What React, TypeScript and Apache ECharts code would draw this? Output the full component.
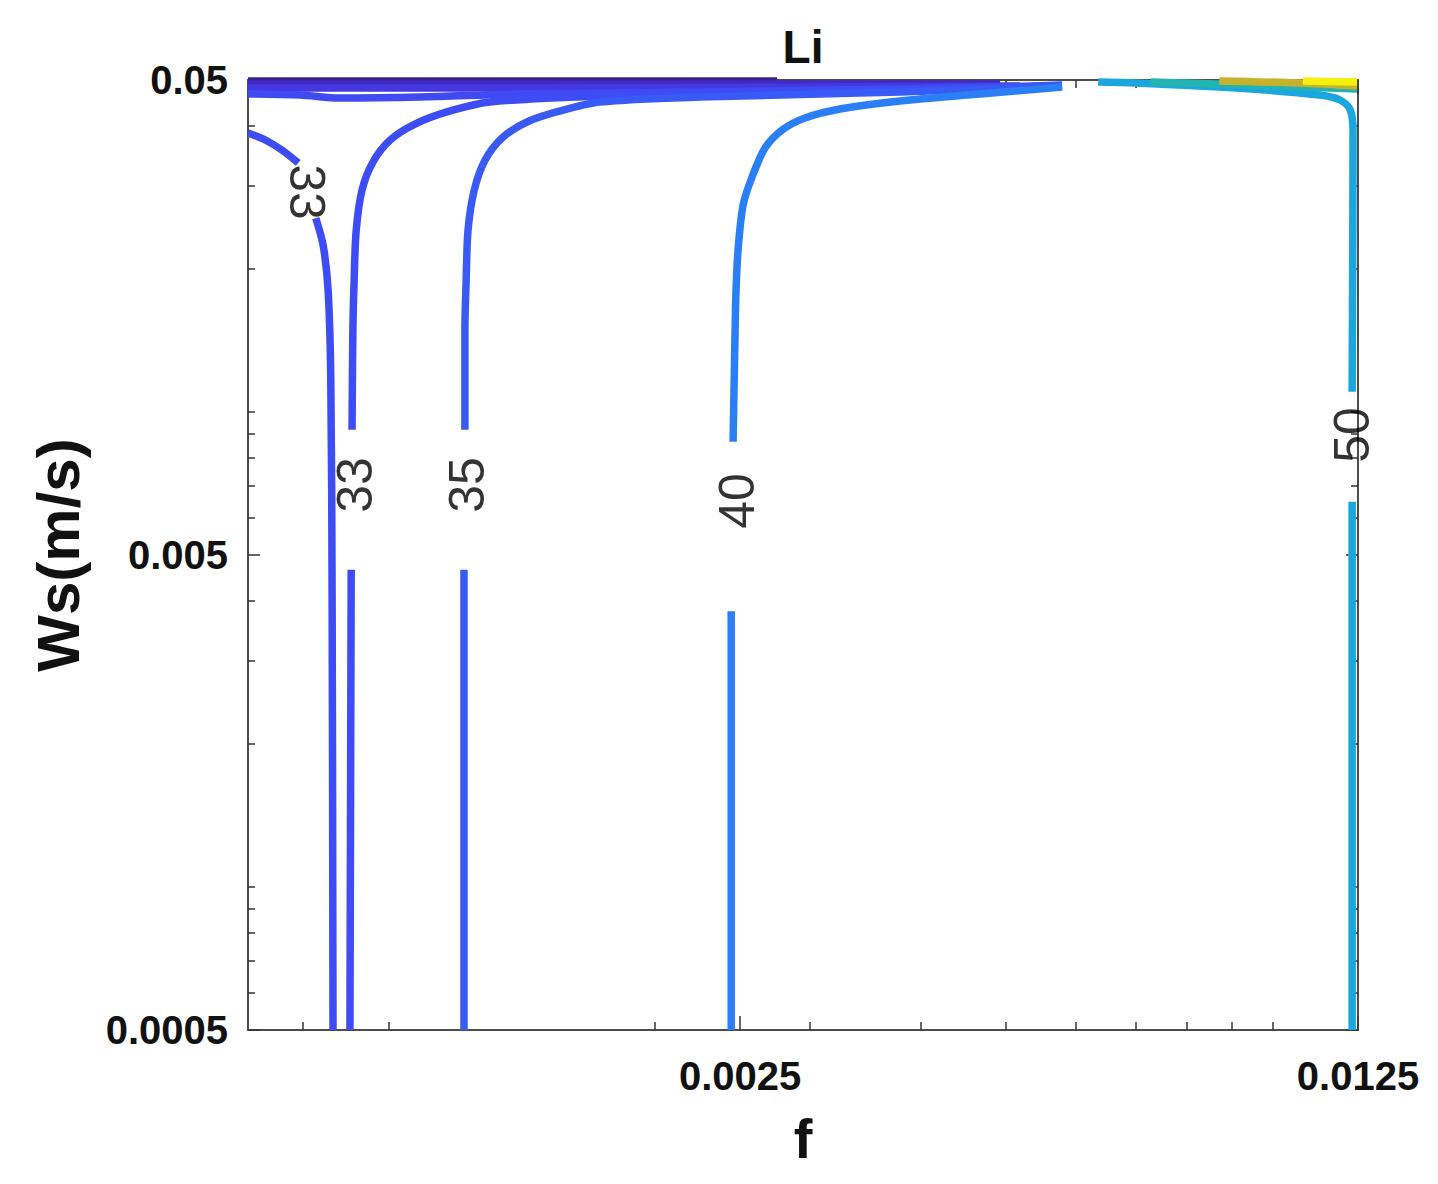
import { useEffect, useRef } from 'react'
import * as echarts from 'echarts'

type Pt = [number, number] // [f, Ws]

const xRange = [0.000694, 0.0125]
const yRange = [0.0005, 0.05]
const xMajorTicks = [0.0025, 0.0125]
const xMinorTicks = [0.0008, 0.0009, 0.001, 0.002, 0.003, 0.004, 0.005, 0.006, 0.007, 0.008, 0.009, 0.01]
const yMajorTicks = [0.0005, 0.005, 0.05]
const yMinorTicks = [
  0.0006, 0.0007, 0.0008, 0.0009, 0.001, 0.002, 0.003, 0.004,
  0.006, 0.007, 0.008, 0.009, 0.01, 0.02, 0.03, 0.04,
]

// labelled contours, split where the inline label cuts the line
const contour33a: Pt[][] = [
  [[6.94e-4, 0.03867], [7.26e-4, 0.03738], [7.58e-4, 0.03561], [7.91e-4, 0.03344]],
  [
    [8.28e-4, 0.02561], [8.44e-4, 0.02245], [8.55e-4, 0.01807], [8.61e-4, 0.01168],
    [8.64e-4, 0.00402], [8.66e-4, 0.0005],
  ],
]
const contour33b: Pt[][] = [
  [[9.05e-4, 0.0005], [9.08e-4, 0.004655]],
  [
    [9.1e-4, 0.009177], [9.12e-4, 0.01488], [9.15e-4, 0.01896], [9.2e-4, 0.02417], [9.34e-4, 0.02933],
    [9.61e-4, 0.0336], [1.005e-3, 0.03738], [1.072e-3, 0.04039], [1.175e-3, 0.04303], [1.303e-3, 0.04495],
    [1.736e-3, 0.04626], [2.922e-3, 0.0474], [4.921e-3, 0.04833], [5.783e-3, 0.0488],
  ],
]
const contour35: Pt[][] = [
  [[1.218e-3, 0.0005], [1.218e-3, 0.004655]],
  [
    [1.221e-3, 0.009177], [1.221e-3, 0.01488], [1.225e-3, 0.01896], [1.231e-3, 0.02417], [1.251e-3, 0.02933],
    [1.287e-3, 0.03393], [1.345e-3, 0.03775], [1.435e-3, 0.04079], [1.564e-3, 0.04303], [1.736e-3, 0.04495],
    [2.253e-3, 0.04604], [3.793e-3, 0.04717], [5.783e-3, 0.04857],
  ],
]
const contour40: Pt[][] = [
  [[2.443e-3, 0.0005], [2.443e-3, 0.003806]],
  [
    [2.455e-3, 0.008657], [2.468e-3, 0.01488], [2.474e-3, 0.01807], [2.487e-3, 0.02194], [2.52e-3, 0.02728],
    [2.58e-3, 0.03128], [2.668e-3, 0.03596], [2.789e-3, 0.03924], [2.961e-3, 0.04159], [3.244e-3, 0.04344],
    [3.793e-3, 0.04516], [4.671e-3, 0.04671], [5.783e-3, 0.04833],
  ],
]
const contour50: Pt[][] = [
  [[1.231e-2, 0.0005], [1.231e-2, 0.006474]],
  [
    [1.231e-2, 0.01103], [1.234e-2, 0.03904], [1.225e-2, 0.04324], [1.193e-2, 0.04538], [1.132e-2, 0.04649],
    [9.101e-3, 0.0481], [6.995e-3, 0.04928], [6.353e-3, 0.04952],
  ],
]

// unlabelled contours squeezed against the top edge
const topBand1: Pt[] = [[6.94e-4, 0.04976], [2.753e-3, 0.04976]]
const topBand2: Pt[] = [[6.94e-4, 0.04904], [4.921e-3, 0.04904]]
const topBand3: Pt[] = [[6.94e-4, 0.0481], [1.338e-3, 0.0481], [2.922e-3, 0.04833], [5.184e-3, 0.04857]]
const topBand4: Pt[] = [
  [6.94e-4, 0.04671], [7.95e-4, 0.04649], [8.82e-4, 0.04582], [1.086e-3, 0.04604],
  [1.41e-3, 0.04671], [2.253e-3, 0.04717], [3.793e-3, 0.04786], [5.783e-3, 0.04857],
]
const rightBand1: Pt[] = [[7.29e-3, 0.04952], [9.44e-3, 0.0488], [1.247e-2, 0.04786]]
const rightBand2: Pt[] = [[8.71e-3, 0.04976], [1.075e-2, 0.04928], [1.247e-2, 0.04857]]
const rightBand3: Pt[] = [[1.083e-2, 0.04976], [1.247e-2, 0.04952]]

const labelLevels = [33, 33, 35, 40, 50]
const labelPoints: Pt[] = [
  [8.1e-4, 0.02905], [9.17e-4, 0.00702], [1.228e-3, 0.00702], [2.48e-3, 0.0065], [1.231e-2, 0.008945],
]

const FONT = 'Liberation Sans, Arial, Helvetica, sans-serif'
const lg = Math.log10

const toData = (segs: Pt[][]) =>
  segs.flatMap((s, i) => [...(i ? [null] : []), ...s.map(([f, w]) => [lg(f), lg(w)])])

const fmt = (v: number) => String(Number(Math.pow(10, v).toPrecision(3)))

function ContourChart() {
  const chartRef = useRef<HTMLDivElement>(null)

  useEffect(() => {
    if (!chartRef.current) return
    const chart = echarts.init(chartRef.current, null, { renderer: 'svg' })

    const lineStyle = { color: '#4d4d4d', width: 2 }
    const tickStyle = { color: '#333', width: 1.5 }

    const xBase = {
      type: 'value',
      min: lg(xRange[0]),
      max: lg(xRange[1]),
      splitLine: { show: false },
      axisLine: { show: false, onZero: false },
      axisLabel: { show: false },
    }
    const yBase = {
      type: 'value',
      min: lg(yRange[0]),
      max: lg(yRange[1]),
      splitLine: { show: false },
      axisLine: { show: false, onZero: false },
      axisLabel: { show: false },
    }
    const tickLabel = {
      show: true,
      formatter: fmt,
      fontSize: 40,
      fontWeight: 'bold',
      color: '#111',
      fontFamily: FONT,
    }

    const line = (data: any[], color: string, z = 2) => ({
      type: 'line',
      data,
      smooth: 0.3,
      symbol: 'none',
      lineStyle: { color, width: 7.5, cap: 'butt' },
      z,
    })

    chart.setOption({
      animation: false,
      grid: { left: 248, right: 80, top: 80, bottom: 154 },
      xAxis: [
        {
          ...xBase,
          position: 'bottom',
          axisLine: { show: true, onZero: false, lineStyle },
          axisTick: { show: true, inside: true, length: 14, customValues: xMajorTicks.map(lg), lineStyle: tickStyle },
          axisLabel: { ...tickLabel, customValues: xMajorTicks.map(lg), margin: 26 },
          name: 'f',
          nameLocation: 'middle',
          nameGap: 80,
          nameTextStyle: { fontSize: 56, fontWeight: 'bold', color: '#111', fontFamily: FONT },
        },
        {
          ...xBase,
          position: 'bottom',
          axisTick: { show: true, inside: true, length: 8, customValues: xMinorTicks.map(lg), lineStyle: tickStyle },
        },
        {
          ...xBase,
          position: 'top',
          axisLine: { show: true, onZero: false, lineStyle },
          axisTick: { show: true, inside: true, length: 14, customValues: xMajorTicks.map(lg), lineStyle: tickStyle },
          name: 'Li',
          nameLocation: 'middle',
          nameGap: 10,
          nameTextStyle: { fontSize: 46, fontWeight: 'bold', color: '#111', fontFamily: FONT },
        },
        {
          ...xBase,
          position: 'top',
          axisTick: { show: true, inside: true, length: 8, customValues: xMinorTicks.map(lg), lineStyle: tickStyle },
        },
      ],
      yAxis: [
        {
          ...yBase,
          position: 'left',
          axisLine: { show: true, onZero: false, lineStyle },
          axisTick: { show: true, inside: true, length: 12, customValues: yMajorTicks.map(lg), lineStyle: tickStyle },
          axisLabel: { ...tickLabel, customValues: yMajorTicks.map(lg), margin: 20 },
          name: 'Ws(m/s)',
          nameLocation: 'middle',
          nameGap: 160,
          nameTextStyle: { fontSize: 60, fontWeight: 'bold', color: '#111', fontFamily: FONT },
        },
        {
          ...yBase,
          position: 'left',
          axisTick: { show: true, inside: true, length: 7, customValues: yMinorTicks.map(lg), lineStyle: tickStyle },
        },
        {
          ...yBase,
          position: 'right',
          axisLine: { show: true, onZero: false, lineStyle },
          axisTick: { show: true, inside: true, length: 12, customValues: yMajorTicks.map(lg), lineStyle: tickStyle },
        },
        {
          ...yBase,
          position: 'right',
          axisTick: { show: true, inside: true, length: 7, customValues: yMinorTicks.map(lg), lineStyle: tickStyle },
        },
      ],
      series: [
        line(toData([topBand1]), '#3a1f8f'),
        line(toData([topBand2]), '#4129c4'),
        line(toData([topBand3]), '#4538e0'),
        line(toData([topBand4]), '#3f4af2'),
        line(toData(contour33a), '#3d4cf4', 3),
        line(toData(contour33b), '#3d4cf4', 3),
        line(toData(contour35), '#3a5af6', 3),
        line(toData(contour40), '#2a7ef6', 3),
        line(toData(contour50), '#1aa6df', 3),
        line(toData([rightBand1]), '#22b4b0', 4),
        line(toData([rightBand2]), '#c8b22c', 4),
        line(toData([rightBand3]), '#f7ef0e', 4),
        {
          type: 'scatter',
          symbolSize: 0,
          z: 6,
          data: labelPoints.map(([f, w], i) => ({
            value: [lg(f), lg(w)],
            label: {
              show: true,
              position: 'inside',
              formatter: String(labelLevels[i]),
              rotate: i === 0 ? -90 : 90,
              fontSize: 50,
              color: '#000',
              fontFamily: FONT,
            },
          })),
        },
      ],
    })

    return () => chart.dispose()
  }, [])

  return (
    <div
      ref={chartRef}
      style={{ position: 'fixed', left: 0, top: 0, width: 1438, height: 1184, background: '#fff' }}
    />
  )
}

export default function App() {
  return <ContourChart />
}
